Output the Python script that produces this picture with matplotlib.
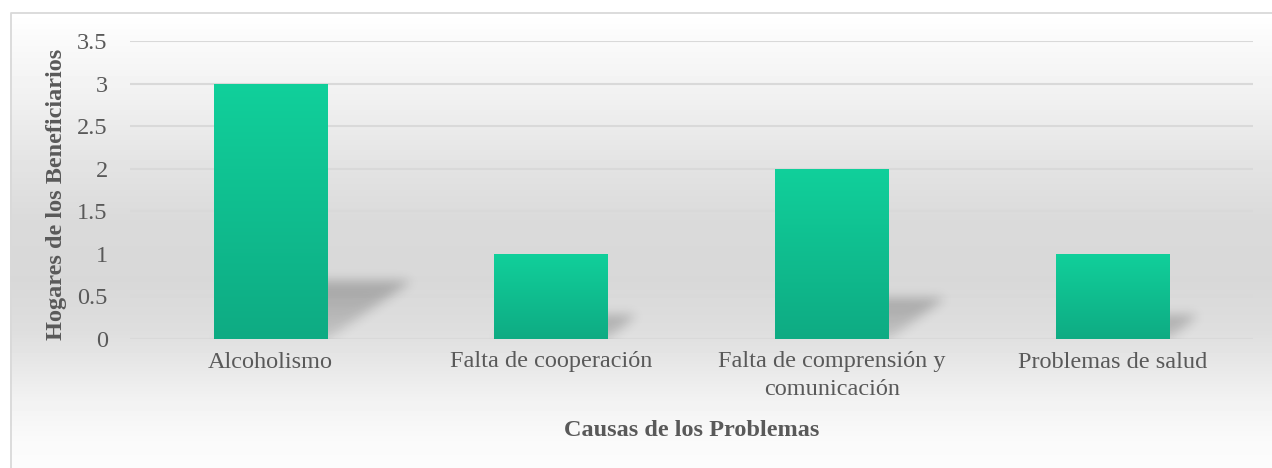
import numpy as np
import matplotlib
matplotlib.use('Agg')
import matplotlib.pyplot as plt

# Data
categories = ['Alcoholismo', 'Falta de cooperación',
              'Falta de comprensión y\ncomunicación', 'Problemas de salud']
values = [3, 1, 2, 1]
y_ticks = [0, 0.5, 1, 1.5, 2, 2.5, 3, 3.5]
y_tick_labels = ['0', '0.5', '1', '1.5', '2', '2.5', '3', '3.5']
x_title = 'Causas de los Problemas'
y_title = 'Hogares de los Beneficiarios'

plt.rcParams['font.family'] = ['Liberation Serif', 'DejaVu Serif']
text_color = '#595959'
fs = 17.5

W, H = 1272, 468
fig = plt.figure(figsize=(W / 100, H / 100), dpi=100)

# Background: vertical grey gradient inside a thin border
bg = fig.add_axes([0, 0, 1, 1], zorder=-10)
stops_y = [0, 12, 40, 100, 160, 220, 280, 330, 360, 400, 440, 468]
stops_g = [255, 255, 250, 240, 228, 218, 216, 222, 230, 242, 250, 252]
rows = np.interp(np.arange(H), stops_y, stops_g) / 255
img = np.repeat(rows[:, None], W, axis=1)
img[:12, :] = 1
img[:, :10] = 1
bg.imshow(img, cmap='gray', vmin=0, vmax=1, extent=[0, W, H, 0],
          aspect='auto', interpolation='bilinear')
bg.plot([10.5, 10.5, W], [H, 12.5, 12.5], color='#d9d9d9', lw=1.3)
bg.set_xlim(0, W)
bg.set_ylim(H, 0)
bg.axis('off')

# Main axes
ax_l, ax_r, ax_t, ax_b = 130, 1253, 41, 339
ax = fig.add_axes([ax_l / W, 1 - ax_b / H, (ax_r - ax_l) / W, (ax_b - ax_t) / H])
ax.set_facecolor('none')
x = np.arange(len(categories))
bars = ax.bar(x, values, width=0.405, color='none', zorder=3)
ax.set_xlim(-0.5, len(categories) - 0.5)
ax.set_ylim(0, 3.5)

# Bar fills: vertical green gradient
top_c = np.array([17, 208, 155]) / 255
bot_c = np.array([14, 171, 131]) / 255
t = np.linspace(0, 1, 200)[:, None]
grad = (top_c * (1 - t) + bot_c * t)[:, None, :]
for p in bars.patches:
    x0, y0 = p.get_x(), p.get_y()
    x1, y1 = x0 + p.get_width(), y0 + p.get_height()
    im = ax.imshow(grad, extent=[x0, x1, y0, y1], origin='upper',
                   aspect='auto', zorder=3, interpolation='bilinear')
    im.set_clip_path(p)

# Soft slanted shadows behind the bars
nx, ny = ax_r - ax_l, ax_b - ax_t
xs = -0.5 + (np.arange(nx) + 0.5) / nx * len(categories)
ys = (np.arange(ny) + 0.5) / ny * 3.5
XX, YY = np.meshgrid(xs, ys)
alpha = np.zeros((ny, nx))
for p, v in zip(bars.patches, values):
    left, right = p.get_x(), p.get_x() + p.get_width()
    h = 0.2 * v + 0.08
    dx = 0.1 * v
    tt = YY / h
    inside = (tt <= 1) & (XX >= left + tt * dx) & (XX <= right + tt * dx)
    alpha = np.maximum(alpha, np.where(inside, 0.24 * (0.5 + 0.5 * tt), 0))

sig = 5.5
k = np.arange(-16, 17)
kern = np.exp(-0.5 * (k / sig) ** 2)
kern /= kern.sum()
alpha = np.array([np.convolve(r, kern, mode='same') for r in alpha])
alpha = np.array([np.convolve(c, kern, mode='same') for c in alpha.T]).T
shadow = np.zeros((ny, nx, 4))
shadow[..., 3] = alpha
ax.imshow(shadow, extent=[-0.5, len(categories) - 0.5, 0, 3.5], origin='lower',
          aspect='auto', zorder=2, interpolation='bilinear')
ax.set_xlim(-0.5, len(categories) - 0.5)
ax.set_ylim(0, 3.5)

# Grid, ticks, spines
ax.set_yticks(y_ticks, y_tick_labels)
ax.set_xticks(x, categories)
ax.yaxis.grid(True, color='#d9d9d9', lw=1.5)
ax.set_axisbelow(True)
for s in ax.spines.values():
    s.set_visible(False)
ax.tick_params(axis='both', length=0, labelsize=fs, labelcolor=text_color)
ax.tick_params(axis='y', pad=16)
ax.tick_params(axis='x', pad=9)
for lab in ax.get_xticklabels():
    lab.set_linespacing(1.38)

fig.text(57 / W, 1 - 194 / H, y_title, rotation=90, ha='center', va='center',
         fontsize=fs, fontweight='bold', color=text_color)
fig.text(692 / W, 1 - 431 / H, x_title, ha='center', va='center',
         fontsize=fs, fontweight='bold', color=text_color)

fig.savefig('out.png', dpi=100)
